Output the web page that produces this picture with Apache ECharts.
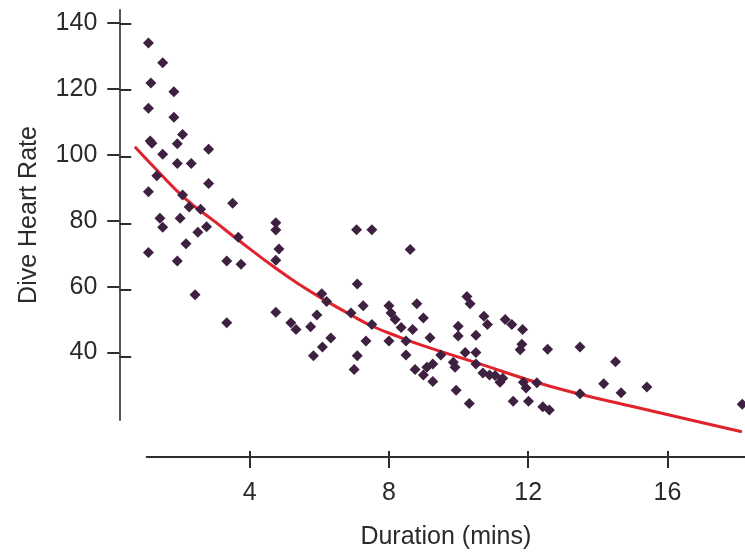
<!DOCTYPE html>
<html><head><meta charset="utf-8">
<script src="https://cdn.jsdelivr.net/npm/echarts@6/dist/echarts.min.js"></script>
<style>html,body{margin:0;padding:0;background:#fff}#c{width:745px;height:555px}</style>
</head><body><div id="c"></div>
<script>
// Dive duration (mins) for each dive
const durations = [1.09,1.50,1.16,1.82,1.09,1.82,2.07,1.14,1.19,1.92,2.82,1.50,1.92,2.32,1.33,2.82,1.09,2.07,2.26,2.59,
  3.51,1.42,2.00,1.50,2.76,2.51,4.75,4.75,3.67,2.17,4.84,1.09,1.92,3.34,3.75,4.75,2.43,4.75,3.34,5.18,
  5.33,5.75,5.93,5.83,6.09,6.33,6.07,6.21,7.07,7.51,8.61,7.09,7.26,6.91,7.51,7.34,7.09,7.00,8.00,8.06,
  8.18,8.80,8.68,8.35,8.00,8.49,8.49,8.75,8.99,9.18,8.99,9.26,9.09,9.26,9.49,9.85,9.90,9.93,10.24,10.33,
  9.99,9.99,10.19,10.50,10.50,10.50,10.31,10.73,10.83,10.70,10.89,11.05,11.19,11.27,11.34,11.53,11.84,11.82,11.77,11.86,
  11.94,11.57,12.01,12.25,12.42,12.61,12.56,13.49,14.51,14.17,13.49,14.67,15.41,18.15];
// Dive heart rate for each dive
const heartRates = [134.0,128.0,121.8,119.2,114.2,111.4,106.2,104.2,103.5,103.4,101.7,100.2,97.4,97.4,93.7,91.3,88.8,87.8,84.2,83.5,
  85.3,80.8,80.8,78.0,78.2,76.5,79.4,77.2,75.0,73.0,71.4,70.4,67.8,67.8,66.8,68.0,57.5,52.2,49.0,49.0,
  47.0,47.8,51.4,39.0,41.7,44.4,57.8,55.5,77.3,77.3,71.3,60.8,54.2,52.0,48.5,43.5,39.0,34.8,54.2,52.0,
  50.0,54.8,47.0,47.6,43.5,43.5,39.2,34.8,50.5,44.5,33.2,31.2,35.5,36.5,39.2,37.0,35.5,28.5,57.0,54.8,
  48.0,45.0,40.0,45.2,40.0,36.5,24.5,51.0,48.5,33.8,33.2,33.0,31.0,32.2,50.0,48.5,47.0,42.5,40.8,31.0,
  29.2,25.2,25.2,30.8,23.5,22.5,41.0,41.7,37.2,30.5,27.5,27.8,29.5,24.3];
// Fitted curve
const fitDurations = [0.70,1.33,2.14,3.00,3.67,4.75,5.45,6.07,6.91,7.51,8.32,8.89,10.50,12.60,15.22,18.14];
const fitRates = [103.0,96.0,87.5,80.5,75.0,66.5,61.5,57.5,52.5,49.2,45.8,43.6,38.2,31.2,24.5,17.5];
const xTicks = [4,8,12,16];
const yTicks = [40,60,80,100,120,140];
const xName = 'Duration (mins)';
const yName = 'Dive Heart Rate';

const FONT = "'Liberation Sans', Arial, sans-serif";
const FS = 25;
const AX = '#2e2e2e';
const gridBox = {left: 146.7, right: 0, top: 10, bottom: 130};
const xRange = {min: 1.04, max: 18.23};
const yRange = {min: 19.5, max: 144};
// curve grid: same pixel scale, extended to the left so the fitted curve starts where it does in the picture
const curveXMin = fitDurations[0];
const pxPerUnit = (745 - gridBox.left) / (xRange.max - xRange.min);
const curveGrid = {left: gridBox.left - (xRange.min - curveXMin) * pxPerUnit, right: 0, top: 10, bottom: 130};

const chart = echarts.init(document.getElementById('c'), null, {renderer: 'canvas'});
chart.setOption({
  animation: false,
  backgroundColor: '#ffffff',
  grid: [Object.assign({}, gridBox), Object.assign({}, gridBox), curveGrid],
  xAxis: [
    {type: 'value', gridIndex: 0, min: xRange.min, max: xRange.max, offset: 37,
      axisLine: {show: true, lineStyle: {color: AX, width: 2}},
      axisTick: {show: true, customValues: xTicks, length: 11, lineStyle: {color: AX, width: 2}},
      axisLabel: {customValues: xTicks, margin: 24, color: '#2b2b2b', fontFamily: FONT, fontSize: FS},
      splitLine: {show: false},
      name: xName, nameLocation: 'middle', nameGap: 68,
      nameTextStyle: {color: '#2b2b2b', fontFamily: FONT, fontSize: FS}},
    {type: 'value', gridIndex: 1, min: xRange.min, max: xRange.max, offset: 37,
      axisLine: {show: false},
      axisTick: {show: true, inside: true, customValues: xTicks, length: 11, lineStyle: {color: AX, width: 2}},
      axisLabel: {show: false}, splitLine: {show: false}},
    {type: 'value', gridIndex: 2, min: curveXMin, max: xRange.max, show: false}
  ],
  yAxis: [
    {type: 'value', gridIndex: 0, min: yRange.min, max: yRange.max, offset: 27.4,
      axisLine: {show: true, lineStyle: {color: '#555', width: 2}},
      axisTick: {show: true, customValues: yTicks, length: 12, lineStyle: {color: AX, width: 2}},
      axisLabel: {customValues: yTicks, margin: 22, color: '#2b2b2b', fontFamily: FONT, fontSize: FS},
      splitLine: {show: false},
      name: yName, nameLocation: 'middle', nameGap: 78,
      nameTextStyle: {color: '#2b2b2b', fontFamily: FONT, fontSize: FS}},
    {type: 'value', gridIndex: 1, min: yRange.min, max: yRange.max, offset: 27.4,
      axisLine: {show: false},
      axisTick: {show: true, inside: true, customValues: yTicks, length: 12, lineStyle: {color: AX, width: 2}},
      axisLabel: {show: false}, splitLine: {show: false}},
    {type: 'value', gridIndex: 2, min: yRange.min, max: yRange.max, show: false}
  ],
  series: [
    {type: 'line', xAxisIndex: 2, yAxisIndex: 2, clip: false, smooth: 0.5, symbol: 'none',
      data: fitDurations.map((d, i) => [d, fitRates[i]]),
      lineStyle: {color: '#e0222c', width: 3}, z: 3},
    {type: 'scatter', xAxisIndex: 0, yAxisIndex: 0, symbol: 'diamond', symbolSize: 11,
      data: durations.map((d, i) => [d, heartRates[i]]),
      itemStyle: {color: '#3e2140', opacity: 1}, z: 4}
  ]
});
</script></body></html>
